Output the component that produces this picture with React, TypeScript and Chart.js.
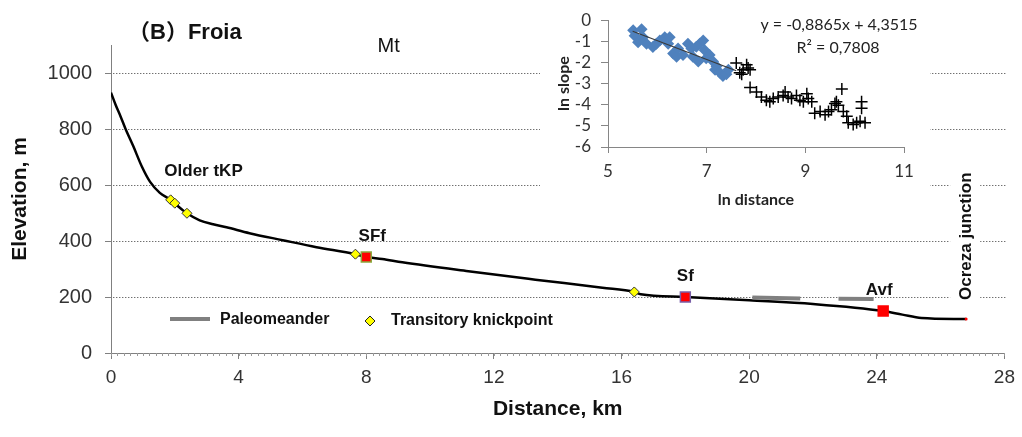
import React, { useEffect, useRef } from "react";
import { Chart, registerables } from "chart.js";
Chart.register(...registerables);

// ---------- main profile data ----------
const profileKm = [0, 0.15, 0.3, 0.45, 0.7, 0.97, 1.22, 1.53, 1.87, 2.02, 2.38, 2.78, 3.2, 3.62, 4.34, 5.38, 6.44, 7.66, 8.0, 8.5, 9.13, 11.2, 13.3, 15.4, 16.4, 16.6, 18.0, 20.0, 22.0, 24.2, 24.8, 25.4, 26.8];
const profileElev = [930, 885, 845, 802, 738, 665, 612, 572, 547, 532, 499, 474, 460, 449, 428, 403, 378, 353, 343, 336, 324, 292, 262, 233, 218, 210, 200, 188, 175, 150, 137, 125, 121];

const knickKm = [1.87, 2.0, 2.38, 7.66, 16.4];
const knickElev = [547, 535, 499, 353, 218];

const faultNames = ["SFf", "Sf", "Avf"];
const faultKm = [8.0, 18.0, 24.2];
const faultElev = [343, 200, 150];
const faultBorders = ["#8aa83c", "#7a5fa8", "#ff0000"];

const paleo1Km = [20.1, 21.6];
const paleo1Elev = [198, 195];
const paleo2Km = [22.8, 23.9];
const paleo2Elev = [194, 193];

const junctionKm = [26.8];
const junctionElev = [121];

const xTickValues = [0, 4, 8, 12, 16, 20, 24, 28];
const yTickValues = [0, 200, 400, 600, 800, 1000];

// ---------- inset data (ln distance vs ln slope) ----------
const blueLnDist = [5.51, 5.54, 5.61, 5.68, 5.71, 5.78, 5.91, 5.98, 6.05, 6.15, 6.22, 6.25, 6.32, 6.39, 6.42, 6.52, 6.62, 6.69, 6.72, 6.79, 6.83, 6.86, 6.93, 6.96, 6.99, 7.06, 7.13, 7.17, 7.2, 7.27, 7.33, 7.4, 7.44];
const blueLnSlope = [-0.47, -0.73, -1.04, -0.43, -0.81, -1.11, -1.27, -1.11, -0.96, -0.81, -1.11, -0.81, -1.57, -1.73, -1.34, -1.65, -1.11, -1.34, -1.73, -1.26, -1.95, -1.11, -0.96, -1.42, -1.8, -1.65, -1.95, -2.34, -2.18, -2.49, -2.64, -2.56, -2.34];
const plusLnDist = [7.6, 7.67, 7.71, 7.74, 7.81, 7.84, 7.88, 7.88, 8.01, 8.11, 8.21, 8.28, 8.35, 8.45, 8.55, 8.59, 8.65, 8.72, 8.82, 8.89, 8.96, 9.03, 9.06, 9.13, 9.19, 9.3, 9.4, 9.47, 9.53, 9.6, 9.63, 9.67, 9.74, 9.77, 9.84, 9.87, 9.97, 10.04, 10.11, 10.14, 10.14, 10.21];
const plusLnSlope = [-2.03, -2.49, -2.56, -2.34, -2.11, -2.26, -2.34, -3.18, -3.4, -3.63, -3.79, -3.86, -3.71, -3.63, -3.56, -3.4, -3.63, -3.71, -3.56, -3.79, -3.86, -3.48, -3.71, -3.86, -4.4, -4.32, -4.47, -4.32, -4.24, -3.94, -3.86, -4.02, -3.25, -4.32, -4.55, -4.85, -4.93, -4.85, -4.78, -3.86, -4.17, -4.85];
const trendLnDist = [5.5, 7.6];
const trendLnSlope = [-0.52, -2.39];
const insetXTicks = [5, 7, 9, 11];
const insetYTicks = [0, -1, -2, -3, -4, -5, -6];

const FONT = '"Liberation Sans", Arial, "Noto Sans CJK SC", sans-serif';
const IFONT = 'Lato, "Open Sans", sans-serif';

const pts = (xs: number[], ys: number[]) => xs.map((x, i) => ({ x, y: ys[i] }));

const mainText = {
  id: "mainText",
  beforeDatasetsDraw(chart: any) {
    // dotted horizontal gridlines (drawn as 1px dots)
    const { ctx, scales, chartArea } = chart;
    const y = scales.y;
    ctx.save();
    ctx.fillStyle = "#707070";
    yTickValues.forEach((v) => {
      if (v === 0) return;
      const py = Math.round(y.getPixelForValue(v));
      for (let px = Math.round(chartArea.left) + 2; px < chartArea.right; px += 3) {
        ctx.fillRect(px, py, 1.4, 1);
      }
    });
    ctx.restore();
  },
  afterDraw(chart: any) {
    const { ctx, scales, chartArea } = chart;
    const x = scales.x, y = scales.y;
    ctx.save();
    // minor ticks on x axis
    ctx.strokeStyle = "#9a9a9a";
    ctx.lineWidth = 1;
    for (let i = 0; i <= 140; i++) {
      const px = Math.round(x.getPixelForValue(i * 0.2)) + 0.5;
      ctx.beginPath();
      ctx.moveTo(px, chartArea.bottom);
      ctx.lineTo(px, chartArea.bottom + 3);
      ctx.stroke();
    }
    ctx.fillStyle = "#111";
    ctx.textBaseline = "middle";
    ctx.textAlign = "left";
    ctx.font = `bold 22px ${FONT}`;
    ctx.fillText("（B）Froia", 128, 33);
    ctx.textAlign = "center";
    ctx.font = `20px ${FONT}`;
    ctx.fillText("Mt", x.getPixelForValue(8.7), y.getPixelForValue(1093));
    ctx.font = `bold 17px ${FONT}`;
    ctx.fillText("Older tKP", x.getPixelForValue(2.9), y.getPixelForValue(650));
    const dx = [6, 0, -4];
    faultNames.forEach((n, i) => {
      ctx.fillText(n, x.getPixelForValue(faultKm[i]) + dx[i], y.getPixelForValue(faultElev[i]) - 21);
    });
    // Ocreza junction (vertical)
    const jx = x.getPixelForValue(junctionKm[0]) - 1;
    const jy = y.getPixelForValue(417);
    ctx.save();
    ctx.translate(jx, jy);
    ctx.rotate(-Math.PI / 2);
    ctx.font = `bold 17px ${FONT}`;
    const w = ctx.measureText("Ocreza junction").width;
    ctx.fillStyle = "#fff";
    ctx.fillRect(-w / 2 - 3, -15, w + 6, 30);
    ctx.fillStyle = "#111";
    ctx.fillText("Ocreza junction", 0, 1);
    ctx.restore();
    // legend
    const ly = 319;
    ctx.strokeStyle = "#808080";
    ctx.lineWidth = 4;
    ctx.beginPath();
    ctx.moveTo(170, ly);
    ctx.lineTo(210, ly);
    ctx.stroke();
    ctx.font = `bold 16px ${FONT}`;
    ctx.textAlign = "left";
    ctx.fillStyle = "#111";
    ctx.fillText("Paleomeander", 220, ly + 1);
    ctx.beginPath();
    ctx.moveTo(370, ly + 2 - 5);
    ctx.lineTo(375, ly + 2);
    ctx.lineTo(370, ly + 2 + 5);
    ctx.lineTo(365, ly + 2);
    ctx.closePath();
    ctx.fillStyle = "#ffff00";
    ctx.fill();
    ctx.strokeStyle = "#222";
    ctx.lineWidth = 1;
    ctx.stroke();
    ctx.fillStyle = "#111";
    ctx.fillText("Transitory knickpoint", 391, ly + 2);
    ctx.restore();
  },
};

const insetText = {
  id: "insetText",
  afterDraw(chart: any) {
    const { ctx } = chart;
    ctx.save();
    ctx.fillStyle = "#222";
    ctx.textAlign = "center";
    ctx.textBaseline = "middle";
    ctx.font = `16px ${IFONT}`;
    ctx.fillText("y = -0,8865x + 4,3515", 299, 25);
    ctx.fillText("R² = 0,7808", 298, 48);
    ctx.restore();
  },
};

export default function App() {
  const mainRef = useRef<HTMLCanvasElement>(null);
  const insetRef = useRef<HTMLCanvasElement>(null);

  useEffect(() => {
    const main = new Chart(mainRef.current as HTMLCanvasElement, {
      type: "line",
      data: {
        datasets: [
          {
            label: "Faults",
            data: pts(faultKm, faultElev),
            showLine: false,
            pointStyle: "rect",
            pointRadius: 7,
            pointBackgroundColor: "#ff0000",
            pointBorderColor: faultBorders,
            pointBorderWidth: 1.5,
          },
          {
            label: "Transitory knickpoint",
            data: pts(knickKm, knickElev),
            showLine: false,
            pointStyle: "rectRot",
            pointRadius: 5,
            pointBackgroundColor: "#ffff00",
            pointBorderColor: "#333",
            pointBorderWidth: 1,
          },
          {
            label: "Junction",
            data: pts(junctionKm, junctionElev),
            showLine: false,
            pointStyle: "circle",
            pointRadius: 1.5,
            pointBackgroundColor: "#ff0000",
            pointBorderWidth: 0,
          },
          {
            label: "Paleomeander",
            data: pts(paleo1Km, paleo1Elev),
            borderColor: "#808080",
            borderWidth: 4,
            pointRadius: 0,
          },
          {
            label: "Paleomeander 2",
            data: pts(paleo2Km, paleo2Elev),
            borderColor: "#808080",
            borderWidth: 4,
            pointRadius: 0,
          },
          {
            label: "Profile",
            data: pts(profileKm, profileElev),
            borderColor: "#000",
            borderWidth: 2.5,
            pointRadius: 0,
            cubicInterpolationMode: "monotone",
          },
        ],
      },
      options: {
        animation: false,
        responsive: false,
        maintainAspectRatio: false,
        layout: { padding: { left: 0, right: 15, top: 45, bottom: 0 } },
        plugins: { legend: { display: false }, tooltip: { enabled: false } },
        scales: {
          x: {
            type: "linear",
            min: 0,
            max: 28,
            afterBuildTicks: (s: any) => {
              s.ticks = xTickValues.map((v) => ({ value: v }));
            },
            afterFit: (s: any) => {
              s.height = 84;
            },
            grid: { drawOnChartArea: false, drawTicks: true, tickLength: 6, tickColor: "#808080" },
            border: { color: "#808080", width: 1 },
            ticks: { font: { family: FONT, size: 19 }, color: "#333", padding: 7, maxRotation: 0, autoSkip: false, callback: (v: any) => String(v) },
            title: {
              display: true,
              text: "Distance, km",
              font: { family: FONT, size: 21, weight: "bold" },
              color: "#111",
              padding: { top: 0, bottom: 15 },
            },
          },
          y: {
            type: "linear",
            min: 0,
            max: 1100,
            afterBuildTicks: (s: any) => {
              s.ticks = yTickValues.map((v) => ({ value: v }));
            },
            afterFit: (s: any) => {
              s.width = 111;
            },
            grid: {
              drawOnChartArea: false,
              tickColor: "#808080",
              tickLength: 6,
            },
            border: { color: "#808080", width: 1 },
            ticks: { font: { family: FONT, size: 20 }, color: "#333", padding: 13, autoSkip: false, callback: (v: any) => String(v) },
            title: {
              display: true,
              text: "Elevation, m",
              font: { family: FONT, size: 21, weight: "bold" },
              color: "#111",
              padding: { top: 8, bottom: 0 },
            },
          },
        },
      },
      plugins: [mainText],
    } as any);

    const inset = new Chart(insetRef.current as HTMLCanvasElement, {
      type: "scatter",
      data: {
        datasets: [
          {
            label: "Trend",
            type: "line",
            data: pts(trendLnDist, trendLnSlope),
            borderColor: "#3a3a3a",
            borderWidth: 1.2,
            pointRadius: 0,
          },
          {
            label: "Upstream",
            data: pts(blueLnDist, blueLnSlope),
            pointStyle: "rectRot",
            pointRadius: 6,
            pointBackgroundColor: "#4f81bd",
            pointBorderColor: "#4f81bd",
            pointBorderWidth: 0,
          },
          {
            label: "Downstream",
            data: pts(plusLnDist, plusLnSlope),
            pointStyle: "cross",
            pointRadius: 6,
            pointBorderColor: "#000",
            pointBorderWidth: 1.5,
          },
        ],
      },
      options: {
        animation: false,
        responsive: false,
        maintainAspectRatio: false,
        layout: { padding: { left: 0, right: 26, top: 16, bottom: 0 } },
        plugins: { legend: { display: false }, tooltip: { enabled: false } },
        scales: {
          x: {
            type: "linear",
            min: 5,
            max: 11,
            afterBuildTicks: (s: any) => {
              s.ticks = insetXTicks.map((v) => ({ value: v }));
            },
            afterFit: (s: any) => {
              s.height = 65;
            },
            grid: { drawOnChartArea: false, tickLength: 6, tickColor: "#868686" },
            border: { color: "#868686" },
            ticks: { font: { family: IFONT, size: 17 }, color: "#333", padding: 8, autoSkip: false },
            title: {
              display: true,
              text: "ln distance",
              font: { family: IFONT, size: 16, weight: "bold" },
              color: "#222",
              padding: { top: 0, bottom: 3 },
            },
          },
          y: {
            type: "linear",
            min: -6,
            max: 0,
            afterBuildTicks: (s: any) => {
              s.ticks = insetYTicks.map((v) => ({ value: v }));
            },
            ticks: { font: { family: IFONT, size: 17 }, color: "#333", padding: 10, autoSkip: false },
            afterFit: (s: any) => {
              s.width = 68;
            },
            grid: { drawOnChartArea: false, tickLength: 7, tickColor: "#868686" },
            border: { color: "#868686" },
            title: {
              display: true,
              text: "ln slope",
              font: { family: IFONT, size: 16, weight: "bold" },
              color: "#222",
              padding: { top: 14, bottom: 0 },
            },
          },
        },
      },
      plugins: [insetText],
    } as any);

    return () => {
      main.destroy();
      inset.destroy();
    };
  }, []);

  return (
    <div style={{ position: "fixed", left: 0, top: 0, width: 1022, height: 437, background: "#fff" }}>
      <canvas ref={mainRef} width={1022} height={437} style={{ position: "absolute", left: 0, top: 0 }} />
      <canvas
        ref={insetRef}
        width={390}
        height={212}
        style={{ position: "absolute", left: 540, top: 0, background: "#fff" }}
      />
    </div>
  );
}
